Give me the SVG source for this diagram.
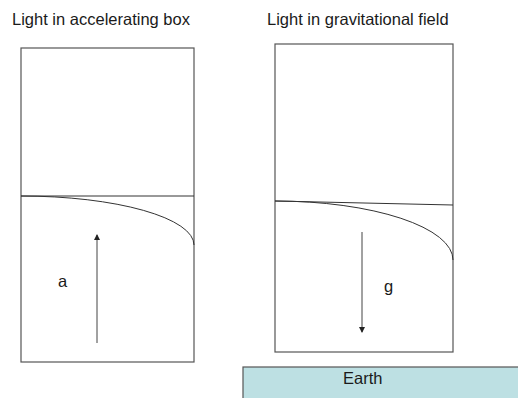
<svg xmlns="http://www.w3.org/2000/svg" width="518" height="398" viewBox="0 0 518 398">
<style>
.t{font-family:"Liberation Sans",Arial,sans-serif;font-size:16.5px;fill:#1a1a1a}
.box{fill:none;stroke:#555;stroke-width:1.2}
.ln{fill:none;stroke:#333;stroke-width:1}
.arr{stroke:#444;stroke-width:1;marker-end:url(#ah)}
</style>
<defs>
<marker id="ah" markerWidth="6" markerHeight="8" refX="5" refY="3" orient="auto" markerUnits="userSpaceOnUse">
<path d="M0,0 L6,3 L0,6 Z" fill="#222"/>
</marker>
</defs>
<rect width="518" height="398" fill="#fff"/>
<text class="t" x="12" y="25">Light in accelerating box</text>
<text class="t" x="267" y="25">Light in gravitational field</text>
<g id="box1">
<rect class="box" x="21" y="48" width="173" height="314"/>
<line class="ln" x1="21" y1="196" x2="194" y2="196"/>
<path class="ln" d="M21,196 A173,49 0 0 1 194,245"/>
<text class="t" x="58" y="287">a</text>
</g>
<g id="box2">
<rect class="box" x="275" y="44" width="178" height="308"/>
<line class="ln" x1="275" y1="201" x2="453" y2="205"/>
<path class="ln" d="M275,201 A178,59 0 0 1 453,260"/>
<text class="t" x="384" y="292">g</text>
</g>
<g id="earth">
<rect x="243" y="367" width="290" height="40" fill="#bde0e3" stroke="#555" stroke-width="1.2"/>
<text class="t" x="343" y="384">Earth</text>
</g>
<g id="connectors">
<line class="arr" x1="97" y1="343" x2="97" y2="235"/>
<line class="arr" x1="362" y1="232" x2="362" y2="332"/>
</g>
</svg>
